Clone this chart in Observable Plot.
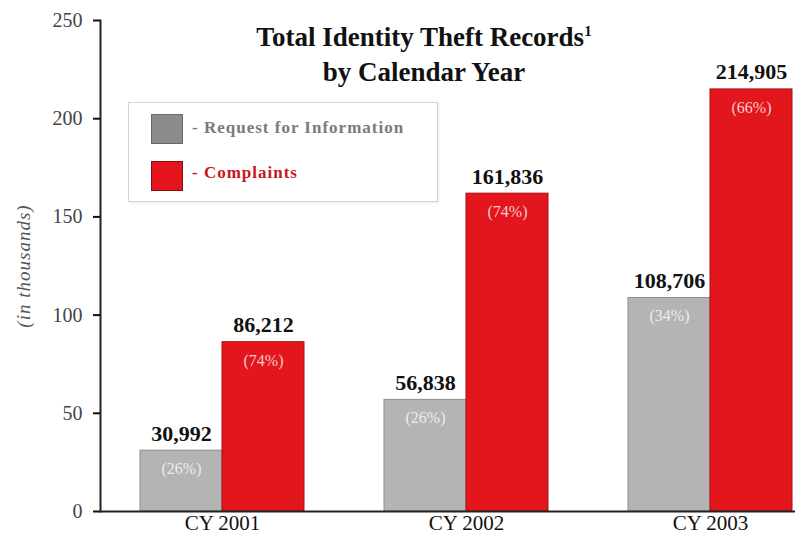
<!DOCTYPE html>
<html>
<head>
<meta charset="utf-8">
<script src="https://cdn.jsdelivr.net/npm/d3@7"></script>
<script src="https://cdn.jsdelivr.net/npm/@observablehq/plot@0.6"></script>
<style>
  html, body { margin: 0; padding: 0; background: #fff; }
  #wrap { position: relative; width: 795px; height: 540px; overflow: hidden; background: #fff; }
  #chart svg { display: block; max-width: none !important; }
  #chart g[aria-label="y-axis label"] text { font-style: italic; fill: #555; font-size: 19px; letter-spacing: 1px; }
  #chart g[aria-label="y-axis tick label"] text { fill: #444; }
  .title { position: absolute; left: 224px; top: 22px; width: 400px; text-align: center;
    font-family: 'Liberation Serif', serif; font-weight: bold; font-size: 27px; line-height: 31px; color: #111; }
  .title sup { font-size: 15px; vertical-align: 0; position: relative; top: -10px; }
  .legend { position: absolute; left: 128px; top: 102px; width: 308px; height: 98px;
    border: 1px solid #d6d6d6; background: #fff; box-shadow: 1px 1px 2px rgba(0,0,0,0.08); }
  .sw { position: absolute; left: 22px; width: 30px; height: 28px; }
  .lt { position: absolute; left: 63px; font-family: 'Liberation Serif', serif; font-weight: bold;
    font-size: 17px; line-height: 1; letter-spacing: 1px; white-space: nowrap; }
</style>
</head>
<body>
<div id="wrap">
  <div id="chart"></div>
  <div class="title">Total Identity Theft Records<sup>1</sup><br>by Calendar Year</div>
  <div class="legend">
    <div class="sw" style="top:11px;background:#8c8c8c;border:1px solid #6a6a6a;"></div>
    <div class="lt" style="top:16px;color:#7a7a7a;" id="lg0"></div>
    <div class="sw" style="top:58px;background:#e3141c;border:1px solid #8a0d10;"></div>
    <div class="lt" style="top:61px;color:#c8161d;" id="lg1"></div>
  </div>
</div>
<script>
const years = ["CY 2001", "CY 2002", "CY 2003"];
const seriesNames = ["Request for Information", "Complaints"];
const requests = [30.992, 56.838, 108.706];
const complaints = [86.212, 161.836, 214.905];
const requestLabels = ["30,992", "56,838", "108,706"];
const complaintLabels = ["86,212", "161,836", "214,905"];
const requestPct = ["(26%)", "(26%)", "(34%)"];
const complaintPct = ["(74%)", "(74%)", "(66%)"];
const yTicks = [0, 50, 100, 150, 200, 250];

document.getElementById("lg0").textContent = "- " + seriesNames[0];
document.getElementById("lg1").textContent = "- " + seriesNames[1];

const reqRows = years.map((year, i) => ({year, value: requests[i], label: requestLabels[i], pct: requestPct[i]}));
const cmpRows = years.map((year, i) => ({year, value: complaints[i], label: complaintLabels[i], pct: complaintPct[i]}));

const half = 82;
const chart = Plot.plot({
  width: 832,
  height: 540,
  marginLeft: 100,
  marginRight: 0,
  marginTop: 20,
  marginBottom: 29,
  style: {fontFamily: "'Liberation Serif', serif", background: "white", color: "#111"},
  x: {domain: years, paddingInner: 0.328, paddingOuter: 0.164},
  y: {domain: [0, 250]},
  marks: [
    Plot.barY(reqRows, {x: "year", y: "value", fill: "#b4b4b4", stroke: "#8e8e8e", strokeWidth: 1, insetRight: half}),
    Plot.barY(cmpRows, {x: "year", y: "value", fill: "#e3161e", stroke: "#a50f14", strokeWidth: 1, insetLeft: half}),
    Plot.text(reqRows, {x: "year", y: "value", text: "label", dx: -half / 2, dy: -10, lineAnchor: "bottom", fontWeight: "bold", fontSize: 22, fill: "#111"}),
    Plot.text(cmpRows, {x: "year", y: "value", text: "label", dx: half / 2, dy: -10, lineAnchor: "bottom", fontWeight: "bold", fontSize: 22, fill: "#111"}),
    Plot.text(reqRows, {x: "year", y: "value", text: "pct", dx: -half / 2, dy: 12, lineAnchor: "top", fontSize: 16, fill: "#ececec", letterSpacing: 1}),
    Plot.text(cmpRows, {x: "year", y: "value", text: "pct", dx: half / 2, dy: 12, lineAnchor: "top", fontSize: 16, fill: "#f6cccc"}),
    Plot.ruleY([0], {strokeWidth: 2, stroke: "#222"}),
    Plot.frame({anchor: "left", strokeWidth: 2, stroke: "#222"}),
    Plot.axisY({ticks: yTicks, tickSize: 7, tickPadding: 11, strokeWidth: 2, fontSize: 20, label: "(in thousands)", labelArrow: "none", labelAnchor: "center", labelOffset: 84}),
    Plot.axisX({tickSize: 0, tickPadding: 4, fontSize: 21, label: null})
  ]
});
document.getElementById("chart").appendChild(chart);
</script>
</body>
</html>
